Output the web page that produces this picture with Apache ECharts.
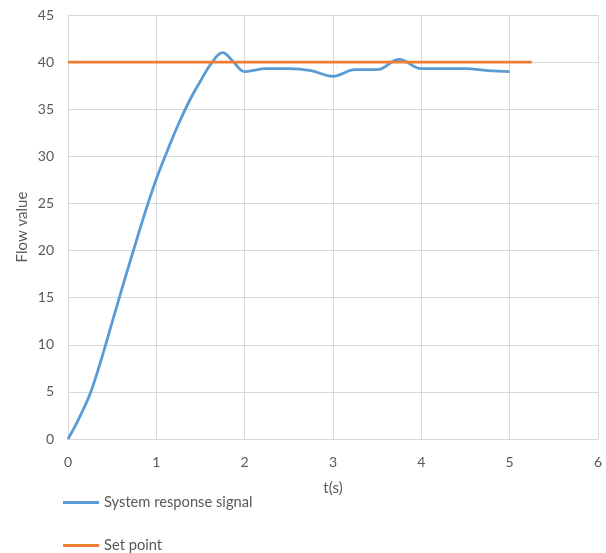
<!DOCTYPE html>
<html><head><meta charset="utf-8">
<script src="https://cdn.jsdelivr.net/npm/echarts@6/dist/echarts.min.js"></script>
<style>html,body{margin:0;padding:0;background:#fff}#c{width:606px;height:553px}</style>
</head><body><div id="c"></div>
<script>
const timeValues = [0, 0.125, 0.25, 0.375, 0.5, 0.625, 0.75, 0.875, 1, 1.125, 1.25, 1.375, 1.5, 1.625, 1.75, 1.875, 2, 2.25, 2.5, 2.75, 3, 3.25, 3.5, 3.75, 4, 4.25, 4.5, 4.75, 5];
const responseValues = [0, 2.2, 4.8, 8.4, 12.4, 16.4, 20.3, 24.1, 27.6, 30.6, 33.4, 35.9, 38.0, 39.9, 41.0, 40.0, 39.0, 39.3, 39.3, 39.1, 38.5, 39.2, 39.2, 40.3, 39.3, 39.3, 39.3, 39.1, 39.0];
const setPointTimes = [0, 5.25];
const setPointValues = [40, 40];
const seriesNames = ['System response signal', 'Set point'];

const font = 'Lato, "Open Sans", sans-serif';
const legendBase = {
  orient: 'horizontal', left: 63, padding: 0,
  itemWidth: 36, itemHeight: 3, icon: 'rect',
  textStyle: {color: '#595959', fontSize: 14.7, fontFamily: font}
};
const chart = echarts.init(document.getElementById('c'));
chart.setOption({
  animation: false,
  textStyle: {fontFamily: font},
  grid: {left: 68, right: 8, top: 15, bottom: 114, containLabel: false},
  legend: [
    Object.assign({}, legendBase, {top: 495, data: [seriesNames[0]]}),
    Object.assign({}, legendBase, {top: 538, data: [seriesNames[1]]})
  ],
  xAxis: {
    type: 'value', min: 0, max: 6, interval: 1,
    name: 't(s)', nameLocation: 'middle', nameGap: 42, nameMoveOverlap: false,
    nameTextStyle: {color: '#595959', fontSize: 15, fontFamily: font},
    axisLine: {show: true, lineStyle: {color: '#d9d9d9'}},
    axisTick: {show: false},
    axisLabel: {color: '#595959', fontSize: 14, margin: 16, fontFamily: font},
    splitLine: {show: true, lineStyle: {color: '#d9d9d9'}}
  },
  yAxis: {
    type: 'value', min: 0, max: 45, interval: 5,
    name: 'Flow value', nameLocation: 'middle', nameGap: 38, nameRotate: 90, nameMoveOverlap: false,
    nameTextStyle: {color: '#595959', fontSize: 15, fontFamily: font},
    axisLine: {show: true, lineStyle: {color: '#d9d9d9'}},
    axisTick: {show: false},
    axisLabel: {color: '#595959', fontSize: 14, margin: 14, fontFamily: font},
    splitLine: {show: true, lineStyle: {color: '#d9d9d9'}}
  },
  series: [
    {
      name: seriesNames[0], type: 'line', smooth: 0.4, symbol: 'none',
      data: timeValues.map((t, i) => [t, responseValues[i]]),
      lineStyle: {color: '#5B9BD5', width: 2.8}, itemStyle: {color: '#5B9BD5'}, z: 3
    },
    {
      name: seriesNames[1], type: 'line', symbol: 'none',
      data: setPointTimes.map((t, i) => [t, setPointValues[i]]),
      lineStyle: {color: '#ED7D31', width: 2.8}, itemStyle: {color: '#ED7D31'}, z: 4
    }
  ]
});
</script></body></html>
